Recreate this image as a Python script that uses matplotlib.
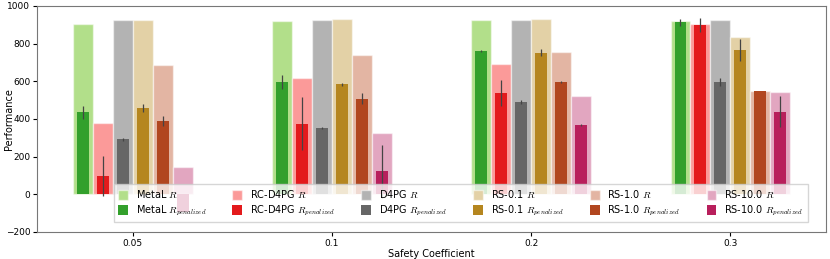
import numpy as np
import matplotlib
matplotlib.use("Agg")
import matplotlib.pyplot as plt

plt.rcParams['mathtext.fontset'] = 'cm'
plt.rcParams['font.size'] = 6.5

coeffs = ["0.05", "0.1", "0.2", "0.3"]
methods = ["MetaL", "RC-D4PG", "D4PG", "RS-0.1", "RS-1.0", "RS-10.0"]

# reward R per method, one value per safety coefficient
R = {
    "MetaL":   [904, 922, 927, 922],
    "RC-D4PG": [377, 618, 692, 904],
    "D4PG":    [926, 926, 926, 926],
    "RS-0.1":  [926, 931, 929, 837],
    "RS-1.0":  [688, 742, 754, 549],
    "RS-10.0": [145, 327, 522, 542],
}
# penalized reward and its error
R_pen = {
    "MetaL":   [435, 596, 761, 913],
    "RC-D4PG": [97, 375, 538, 899],
    "D4PG":    [292, 352, 490, 595],
    "RS-0.1":  [458, 584, 752, 766],
    "RS-1.0":  [388, 508, 598, 549],
    "RS-10.0": [-96, 122, 366, 439],
}
R_pen_err = {
    "MetaL":   [35, 37, 5, 20],
    "RC-D4PG": [108, 143, 67, 36],
    "D4PG":    [8, 5, 10, 20],
    "RS-0.1":  [20, 8, 20, 60],
    "RS-1.0":  [28, 29, 5, 0],
    "RS-10.0": [0, 140, 5, 80],
}

light = ["#b2df8a", "#fb9a99", "#b3b3b3", "#e3d1a6", "#e3b5a3", "#e2a6c0"]
dark = ["#33a02c", "#e31a1c", "#666666", "#b5861f", "#b1461f", "#b81f5c"]

x = np.arange(len(coeffs))
fig, ax = plt.subplots(figsize=(8.3, 2.59), dpi=100)
fig.subplots_adjust(left=0.045, right=0.995, bottom=0.105, top=0.977)

handles = []
for i, m in enumerate(methods):
    off = (i - 2.5) * 0.1
    h1 = ax.bar(x + off, R[m], width=0.1, color=light[i],
                edgecolor=(1, 1, 1, 0.5), linewidth=1, label=m + r" $R$")
    h2 = ax.bar(x + off, R_pen[m], width=0.06, color=dark[i],
                yerr=R_pen_err[m], ecolor="#444444",
                error_kw=dict(elinewidth=0.9), label=m + r" $R_{penalized}$")
    handles += [h1, h2]

ax.set_xticks(x)
ax.set_xticklabels(coeffs)
ax.set_xlim(-0.48, 3.48)
ax.set_ylim(-200, 1000)
ax.set_yticks(range(-200, 1001, 200))
ax.tick_params(labelsize=6.5, length=3, pad=2)
ax.set_xlabel("Safety Coefficient", fontsize=7, labelpad=1)
ax.set_ylabel("Performance", fontsize=7)
ax.yaxis.set_label_coords(-0.03, 0.5)
for s in ax.spines.values():
    s.set_color("#777777")

ax.legend(handles=handles, ncol=6, loc="lower right",
          bbox_to_anchor=(0.983, 0.02), fontsize=7,
          handlelength=1.0, handleheight=1.1, columnspacing=2.7,
          handletextpad=0.8, borderpad=0.45, labelspacing=0.35,
          fancybox=False)

fig.savefig("out.png")
